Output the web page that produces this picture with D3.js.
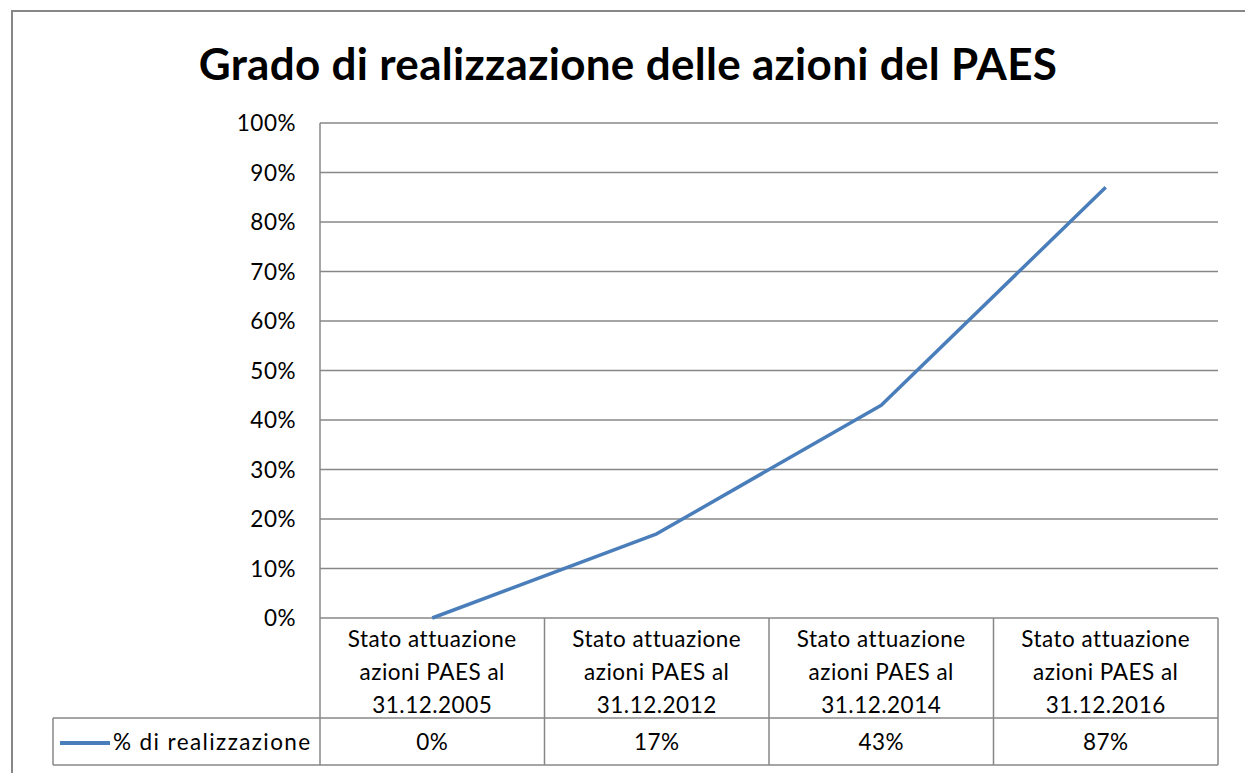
<!DOCTYPE html>
<html lang="it">
<head>
<meta charset="UTF-8">
<title>Grado di realizzazione</title>
<script src="https://d3js.org/d3.v7.min.js"></script>
<style>
  body { margin: 0; background: #fff; }
  text { font-family: Lato, "Open Sans", sans-serif; fill: #000; }
</style>
</head>
<body>
<svg class="chart" width="1245" height="773"></svg>
<script>
const categories = [
  ['Stato attuazione', 'azioni PAES al', '31.12.2005'],
  ['Stato attuazione', 'azioni PAES al', '31.12.2012'],
  ['Stato attuazione', 'azioni PAES al', '31.12.2014'],
  ['Stato attuazione', 'azioni PAES al', '31.12.2016']
]
const values = [0, 0.17, 0.43, 0.87]
const yTicks = [0, 0.1, 0.2, 0.3, 0.4, 0.5, 0.6, 0.7, 0.8, 0.9, 1]
const seriesName = '% di realizzazione'
const title = 'Grado di realizzazione delle azioni del PAES'

const svg = d3.select('.chart')
const gridColor = '#878787'
const lineColor = '#4a7ebb'
const fontSize = '22.5px'
const spacing = '0.5px'

// outer chart border (runs off right and bottom edges)
svg.append('rect')
  .attr('x', 12).attr('y', 11)
  .attr('width', 1260).attr('height', 800)
  .attr('fill', 'none')
  .attr('stroke', gridColor)
  .attr('stroke-width', 2)

svg.append('text')
  .attr('x', 628).attr('y', 80)
  .attr('text-anchor', 'middle')
  .style('font-size', '44px')
  .style('font-weight', 'bold')
  .style('letter-spacing', '0.3px')
  .text(title)

const plotLeft = 320, plotRight = 1218, plotTop = 123, plotBottom = 618
const xScale = d3.scaleBand()
  .domain(d3.range(categories.length))
  .range([plotLeft, plotRight])
const yScale = d3.scaleLinear()
  .domain([0, 1])
  .range([plotBottom, plotTop])

// gridlines
svg.append('g').selectAll('line')
  .data(yTicks)
  .join('line')
  .attr('x1', plotLeft).attr('x2', plotRight)
  .attr('y1', d => yScale(d)).attr('y2', d => yScale(d))
  .attr('stroke', gridColor)
  .attr('stroke-width', 1.5)

svg.append('line')
  .attr('x1', plotLeft).attr('x2', plotLeft)
  .attr('y1', plotTop).attr('y2', 765)
  .attr('stroke', gridColor).attr('stroke-width', 1.5)

// y labels
svg.append('g').selectAll('text')
  .data(yTicks)
  .join('text')
  .attr('x', 296)
  .attr('y', d => yScale(d) + 8)
  .attr('text-anchor', 'end')
  .style('font-size', fontSize)
  .style('letter-spacing', spacing)
  .text(d => d3.format('.0%')(d))

// data table
const rowTop = 718, rowBottom = 765
const table = svg.append('g')
  .attr('stroke', gridColor)
  .attr('stroke-width', 1.5)
xScale.domain().forEach(i => {
  table.append('line')
    .attr('x1', xScale(i) + xScale.bandwidth()).attr('x2', xScale(i) + xScale.bandwidth())
    .attr('y1', plotBottom).attr('y2', rowBottom)
})
table.append('line').attr('x1', 53).attr('x2', plotRight).attr('y1', rowTop).attr('y2', rowTop)
table.append('line').attr('x1', 53).attr('x2', plotRight).attr('y1', rowBottom).attr('y2', rowBottom)
table.append('line').attr('x1', 53).attr('x2', 53).attr('y1', rowTop).attr('y2', rowBottom)

// category header text
const headers = svg.append('g').selectAll('text')
  .data(categories)
  .join('text')
  .attr('text-anchor', 'middle')
  .style('font-size', fontSize)
  .style('letter-spacing', spacing)
headers.selectAll('tspan')
  .data((d, i) => d.map(s => ({ s, i })))
  .join('tspan')
  .attr('x', d => xScale(d.i) + xScale.bandwidth() / 2)
  .attr('y', (d, j) => 647 + j * 33)
  .text(d => d.s)

// values row
svg.append('g').selectAll('text')
  .data(values)
  .join('text')
  .attr('x', (d, i) => xScale(i) + xScale.bandwidth() / 2)
  .attr('y', 750)
  .attr('text-anchor', 'middle')
  .style('font-size', fontSize)
  .style('letter-spacing', spacing)
  .text(d => d3.format('.0%')(d))

// legend key
svg.append('line')
  .attr('x1', 60).attr('x2', 110)
  .attr('y1', 743).attr('y2', 743)
  .attr('stroke', lineColor).attr('stroke-width', 4)
svg.append('text')
  .attr('x', 113).attr('y', 750)
  .style('font-size', fontSize)
  .style('letter-spacing', '1.4px')
  .text(seriesName)

// series line
const line = d3.line()
  .x((d, i) => xScale(i) + xScale.bandwidth() / 2)
  .y(d => yScale(d))
svg.append('path')
  .datum(values)
  .attr('d', line)
  .attr('fill', 'none')
  .attr('stroke', lineColor)
  .attr('stroke-width', 3.5)
  .attr('stroke-linejoin', 'round')
</script>
</body>
</html>
